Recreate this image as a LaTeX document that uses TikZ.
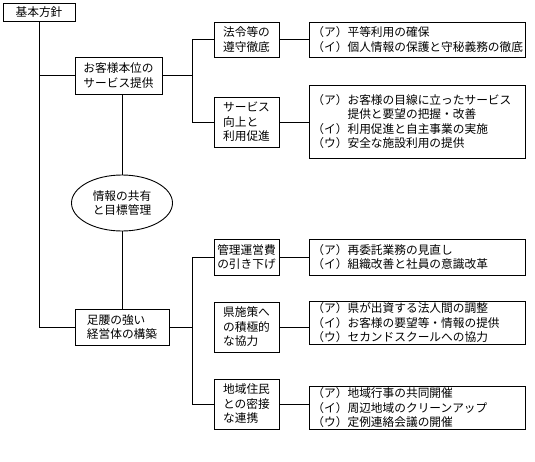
\documentclass[tikz,border=0pt]{standalone}
\usepackage{fontspec}
\setmainfont{Noto Sans CJK JP}
\usetikzlibrary{shapes.geometric}

\begin{document}
\begin{tikzpicture}[x=1pt,y=1pt,line width=0.9pt,
  every node/.style={font=\fontsize{11.7}{14.5}\selectfont},
  box/.style={draw,align=left,inner sep=2pt},
  sub/.style={box,minimum width=65,minimum height=#1},
  item/.style={box,text width=210,inner xsep=3pt,inner ysep=1pt,minimum height=#1,anchor=west}]
\useasboundingbox (0,0) rectangle (535,-461);
\node[box,minimum width=72,minimum height=18,inner sep=0] (policy) at (39,-12) {基本方針};
\node[box,minimum width=87,minimum height=37] (cust) at (118.5,-75.5) {お客様本位の\\サービス提供};
\node[draw,ellipse,minimum width=101,minimum height=56,inner sep=0,align=center] (info) at (122,-203) {情報の共有\\と目標管理};
\node[box,minimum width=94,minimum height=36] (base) at (122,-327) {足腰の強い\\経営体の構築};
\node[sub=35] (law) at (246.5,-39.5) {法令等の\\遵守徹底};
\node[sub=50] (svc) at (246.5,-122) {サービス\\向上と\\利用促進};
\node[sub=36] (cost) at (246.5,-257) {管理運営費\\の引き下げ};
\node[sub=50] (pref) at (246.5,-327) {県施策へ\\の積極的\\な協力};
\node[sub=50] (local) at (246.5,-404) {地域住民\\との密接\\な連携};
\node[item=35] (lawr) at (309,-39.5) {（ア）平等利用の確保\\（イ）個人情報の保護と守秘義務の徹底};
\node[item=73] (svcr) at (309,-121.5) {（ア）お客様の目線に立ったサービス\\\phantom{（ア）}提供と要望の把握・改善\\（イ）利用促進と自主事業の実施\\（ウ）安全な施設利用の提供};
\node[item=36] (costr) at (309,-257) {（ア）再委託業務の見直し\\（イ）組織改善と社員の意識改革};
\node[item=42] (prefr) at (309,-323) {（ア）県が出資する法人間の調整\\（イ）お客様の要望等・情報の提供\\（ウ）セカンドスクールへの協力};
\node[item=42] (localr) at (309,-408) {（ア）地域行事の共同開催\\（イ）周辺地域のクリーンアップ\\（ウ）定例連絡会議の開催};
\coordinate (j1) at (192,-75.5);
\coordinate (j2) at (192,-327);
\draw (policy) |- (cust);
\draw (policy) |- (base);
\draw (cust) -- (j1) |- (law);
\draw (j1) |- (svc);
\draw (info) -- (info |- cust.south);
\draw (info) -- (base);
\draw (base) -- (j2) |- (cost);
\draw (j2) |- (local);
\foreach \a/\b in {law/lawr,svc/svcr,cost/costr,pref/prefr,local/localr}
  \draw (\a) -- (\a -| \b.west);
\end{tikzpicture}
\end{document}
